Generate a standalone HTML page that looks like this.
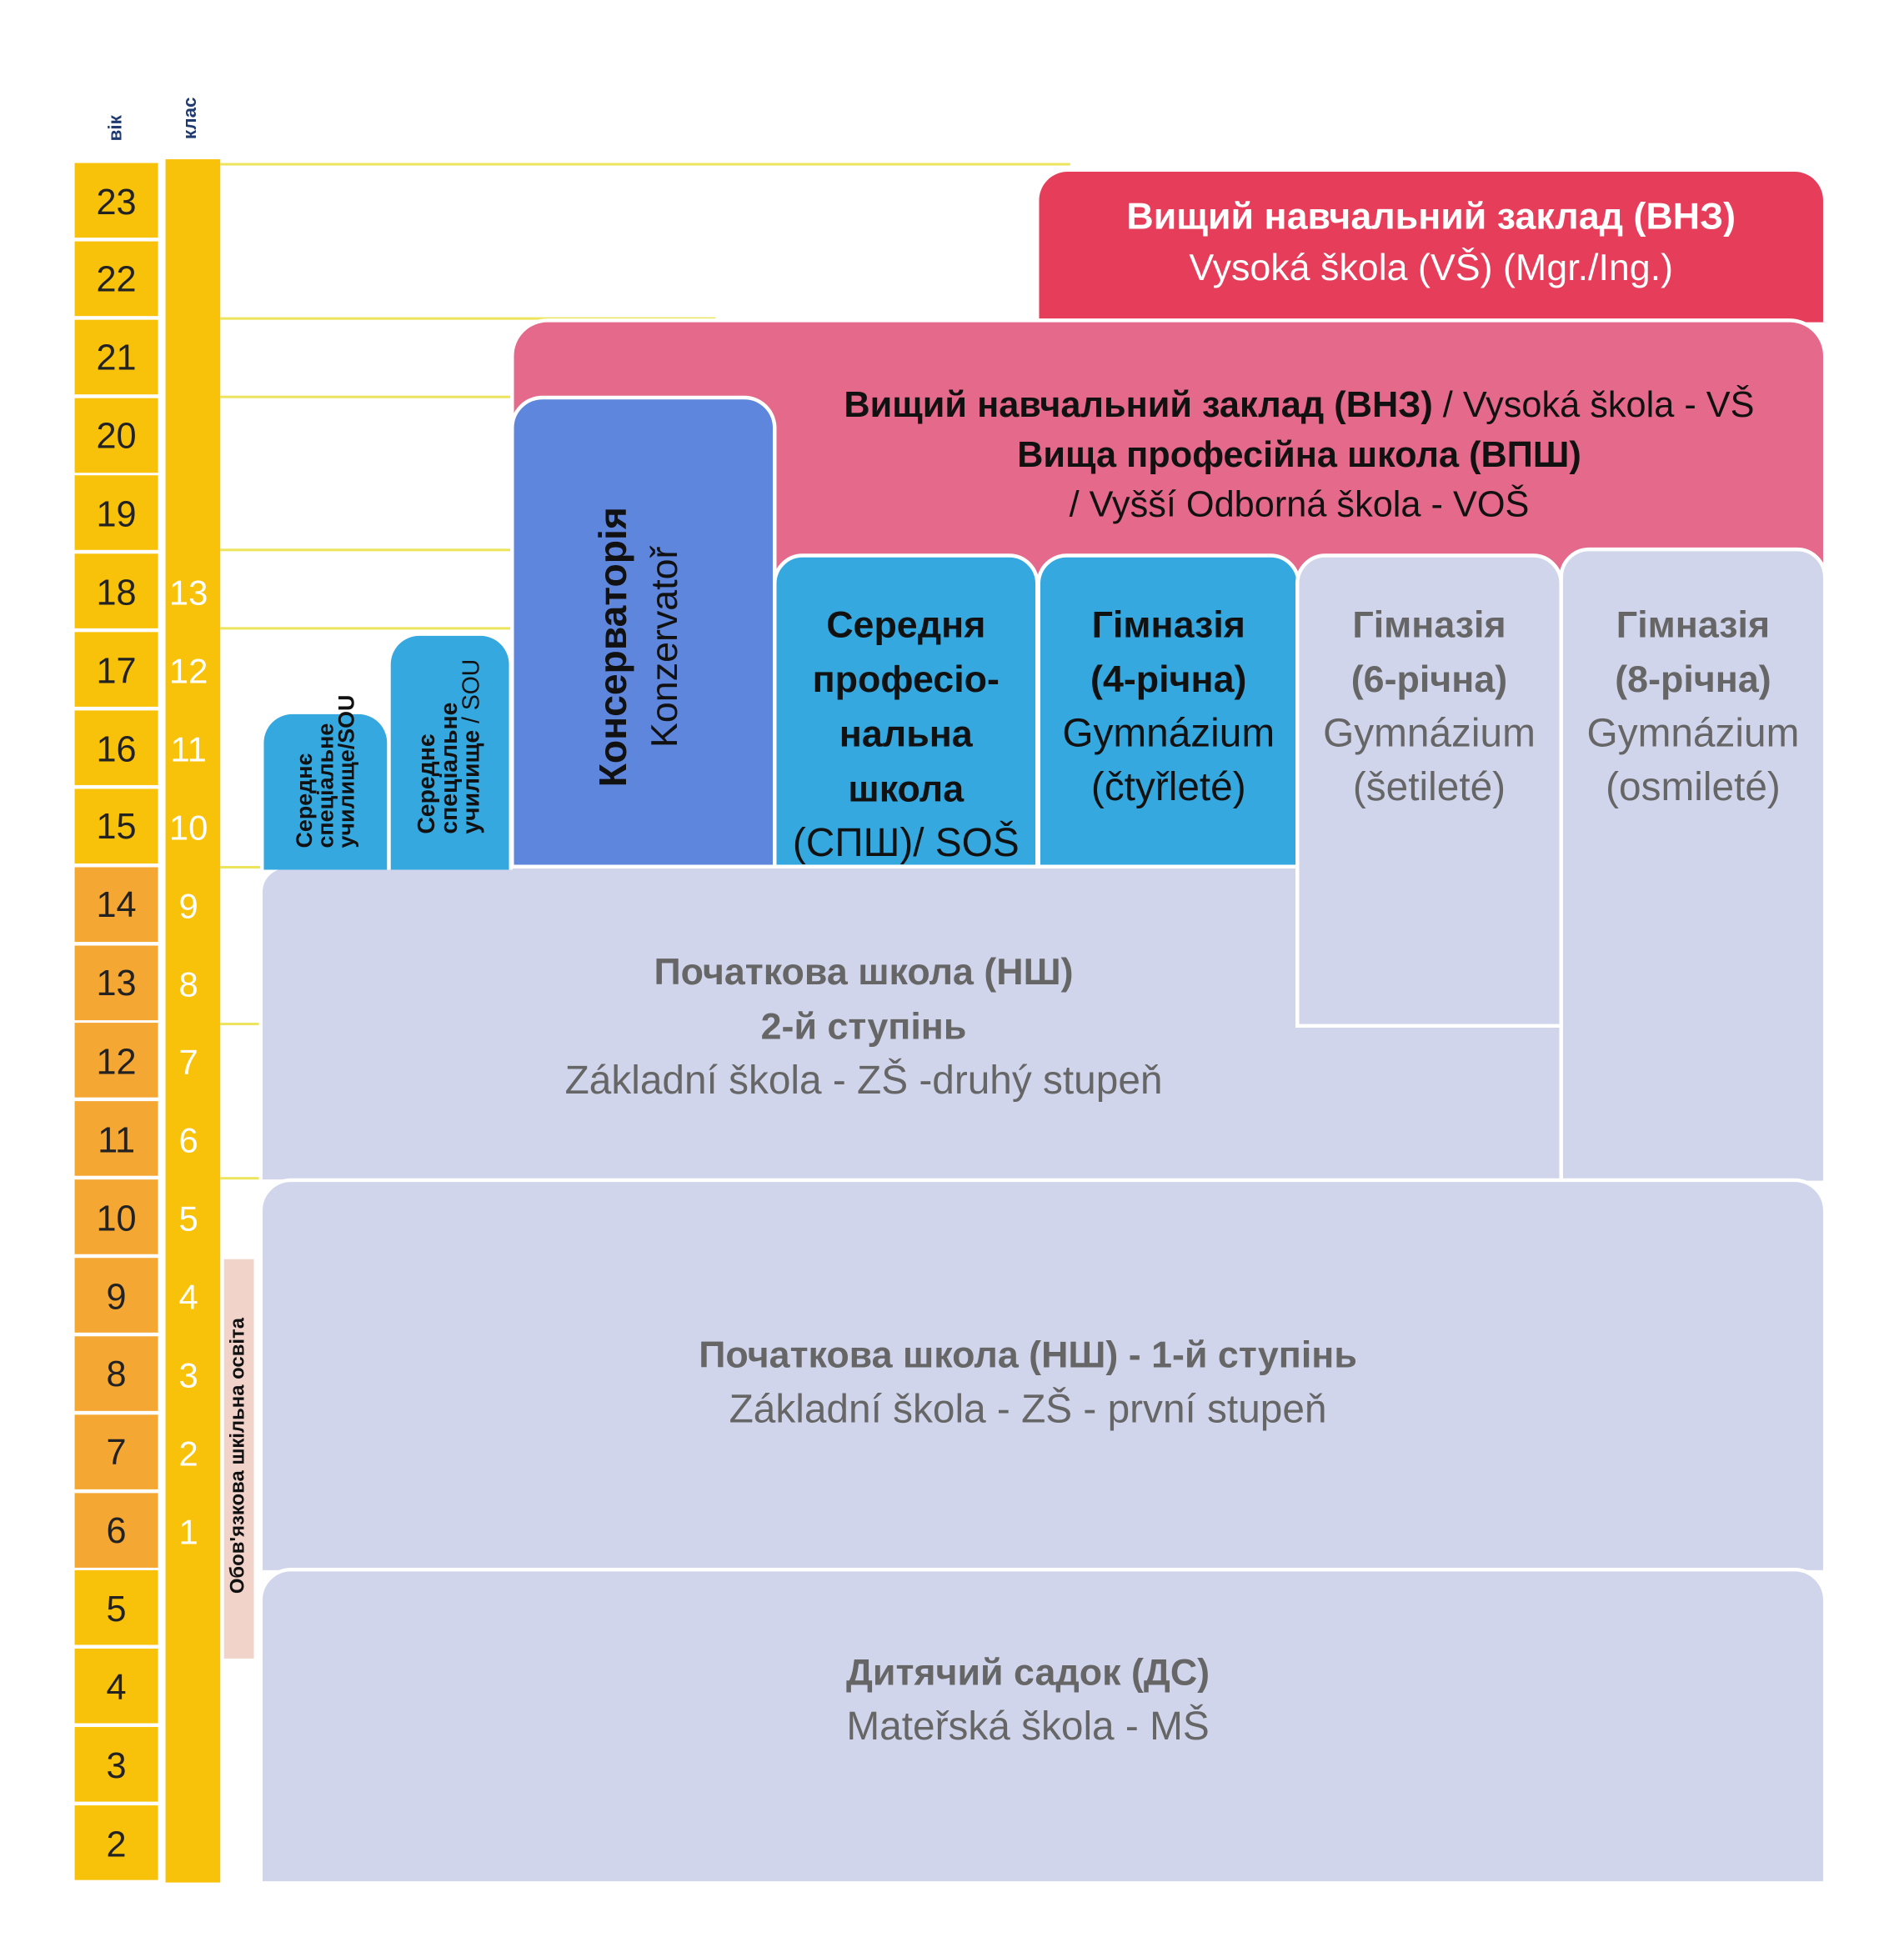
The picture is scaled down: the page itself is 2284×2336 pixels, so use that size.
<!DOCTYPE html>
<html><head><meta charset="utf-8"><style>
html,body{margin:0;padding:0;background:#fff;width:2284px;height:2336px;overflow:hidden}
#w{position:absolute;left:0;top:0;width:1530px;height:1565px;transform:scale(1.49281);transform-origin:0 0;font-family:"Liberation Sans","DejaVu Sans",sans-serif}
.a{position:absolute}
.r{position:absolute;left:60px;width:67px;height:60px;display:flex;align-items:center;justify-content:center;font-size:29px;color:#222;padding-top:4px;box-sizing:border-box}
.c{position:absolute;left:133px;width:37px;text-align:center;font-size:28px;color:#fff}
.ln{position:absolute;height:2px;background:#ece45a;left:177px}
.box{position:absolute;box-sizing:border-box;border:3px solid #fff;text-align:center;white-space:nowrap}
.b{font-weight:bold}
.rot{position:absolute;transform:translate(-50%,-50%) rotate(-90deg);white-space:nowrap;text-align:center}
.g{font-size:32px;line-height:43px}
.g .b{font-size:30px}
</style></head><body><div id="w">
<div class="rot b" style="left:93px;top:103px;font-size:15px;color:#1f3a6e">вік</div>
<div class="rot b" style="left:153px;top:95px;font-size:15px;color:#1f3a6e">клас</div>
<div class="a" style="left:133px;top:128px;width:44px;height:1385px;background:#f9c20a"></div>
<div class="ln" style="top:131px;width:683px"></div>
<div class="ln" style="top:255px;width:398px"></div>
<div class="ln" style="top:318px;width:233px"></div>
<div class="ln" style="top:441px;width:233px"></div>
<div class="ln" style="top:504px;width:233px"></div>
<div class="ln" style="top:696px;width:33px"></div>
<div class="ln" style="top:822px;width:33px"></div>
<div class="ln" style="top:946px;width:33px"></div>
<div id="rows"></div>
<div class="a" style="left:180px;top:1012px;width:24px;height:321px;background:#f2d3ca"></div>
<div class="rot b" style="left:192px;top:1170px;font-size:16px;color:#111">Обов'язкова шкільна освіта</div>

<div class="box" style="left:832px;top:135px;width:636px;height:124px;background:#e53d5a;border-radius:26px 26px 0 0;color:#fff;border-bottom:none">
<div class="b" style="margin-top:20px;font-size:30px">Вищий навчальний заклад (ВНЗ)</div>
<div style="margin-top:7px;font-size:30px">Vysoká škola (VŠ) (Mgr./Ing.)</div></div>

<div class="box" style="left:410px;top:256px;width:1058px;height:445px;background:#e4698a;border-radius:30px 30px 0 0;color:#111;padding-left:210px">
<div style="margin-top:47px;font-size:29px;line-height:40px"><span class="b">Вищий навчальний заклад (ВНЗ)</span> / Vysoká škola - VŠ<br><span class="b">Вища професійна школа (ВПШ)</span><br>/ Vyšší Odborná škola - VOŠ</div></div>

<div class="box" style="left:410px;top:318px;width:214px;height:383px;background:#5e86dd;border-radius:26px 26px 0 0"></div>
<div class="rot b" style="left:493px;top:520px;font-size:31px;color:#111">Консерваторія</div>
<div class="rot" style="left:535px;top:520px;font-size:30px;color:#111">Konzervatoř</div>

<div class="box g" style="left:621px;top:445px;width:214px;height:256px;background:#35a8df;border-radius:24px 24px 0 0;color:#111">
<div style="margin-top:32px"><span class="b">Середня<br>професіо-<br>нальна<br>школа</span><br>(СПШ)/ SOŠ</div></div>
<div class="box g" style="left:833px;top:445px;width:212px;height:256px;background:#35a8df;border-radius:24px 24px 0 0;color:#111">
<div style="margin-top:32px"><span class="b">Гімназія<br>(4-річна)</span><br>Gymnázium<br>(čtyřleté)</div></div>

<div class="box g" style="left:208px;top:695px;width:1048px;height:256px;background:#d0d5eb;border-radius:22px 0 0 0;color:#666">
<div style="margin-top:61px;width:966px"><span class="b">Початкова школа (НШ)<br>2-й ступінь</span><br>Základní škola - ZŠ -druhý stupeň</div></div>

<div class="box g" style="left:1041px;top:445px;width:215px;height:381px;background:#d0d5eb;border-radius:24px 24px 0 0;color:#666">
<div style="margin-top:32px"><span class="b">Гімназія<br>(6-річна)</span><br>Gymnázium<br>(šetileté)</div></div>
<div class="box g" style="left:1253px;top:440px;width:215px;height:512px;background:#d0d5eb;border-radius:24px 24px 0 0;color:#666">
<div style="margin-top:37px"><span class="b">Гімназія<br>(8-річна)</span><br>Gymnázium<br>(osmileté)</div></div>

<div class="box g" style="left:208px;top:947px;width:1260px;height:318px;background:#d0d5eb;border-radius:26px 26px 0 0;color:#666">
<div style="margin-top:117px;padding-right:24px"><span class="b">Початкова школа (НШ) - 1-й ступінь</span><br>Základní škola - ZŠ - první stupeň</div></div>
<div class="box g" style="left:208px;top:1260px;width:1260px;height:255px;background:#d0d5eb;border-radius:26px 26px 0 0;color:#666">
<div style="margin-top:59px;padding-right:24px"><span class="b">Дитячий садок (ДС)</span><br>Mateřská škola - MŠ</div></div>

<div class="box" style="left:209px;top:571px;width:105px;height:128px;background:#35a8df;border-radius:26px 26px 0 0;border-bottom:none"></div>
<div class="rot b" style="left:262px;top:620px;font-size:18px;line-height:17px;color:#111;text-align:left">Середнє<br>спеціальне<br>училище/SOU</div>
<div class="box" style="left:311px;top:508px;width:101px;height:191px;background:#35a8df;border-radius:26px 26px 0 0;border-bottom:none"></div>
<div class="rot" style="left:362px;top:600px;font-size:19px;line-height:18px;color:#111;text-align:left"><b>Середнє<br>спеціальне<br>училище</b> / SOU</div>
</div>
<script>
var h='';for(var i=0;i<22;i++){var age=23-i,t=131+i*62.86;var col=(age<=14&&age>=6)?'#f5a733':'#f9c20a';
h+='<div class="r" style="top:'+t+'px;background:'+col+'">'+age+'</div>';
var k=age-5;if(k>=1&&k<=13)h+='<div class="c" style="top:'+(t+16)+'px">'+k+'</div>';}
document.getElementById('rows').innerHTML=h;
</script>
</body></html>
